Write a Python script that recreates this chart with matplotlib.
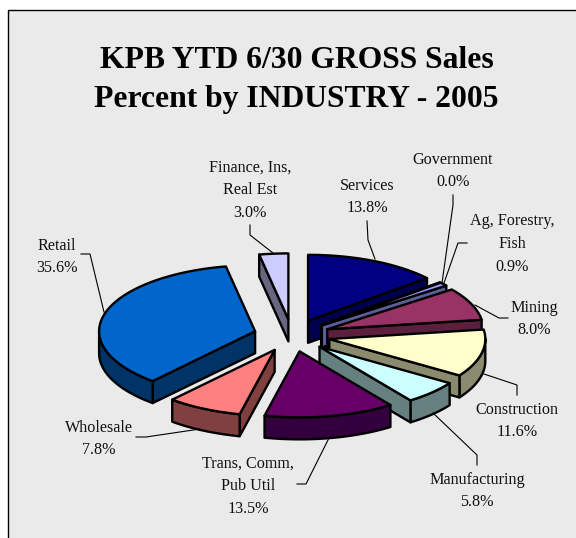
import numpy as np
import matplotlib
matplotlib.use("Agg")
import matplotlib.pyplot as plt
from matplotlib.patches import Polygon, Rectangle

# slices clockwise from 12 o'clock
names = ["Services", "Government", "Ag, Forestry,\nFish", "Mining", "Construction",
         "Manufacturing", "Trans, Comm,\nPub Util", "Wholesale", "Retail", "Finance, Ins,\nReal Est"]
percents = [13.8, 0.0, 0.9, 8.0, 11.6, 5.8, 13.5, 7.8, 35.6, 3.0]
top_colors = ["#000080", "#000080", "#9999FF", "#993366", "#FFFFCC",
              "#CCFFFF", "#660066", "#FF8080", "#0066CC", "#CCCCFF"]
side_colors = ["#00004D", "#00004D", "#5C5C99", "#5C1F3D", "#8A8A6E",
               "#668080", "#33003D", "#804040", "#003366", "#666680"]

# label centre and leader line for each slice, in pixels
label_pos = [(367, 197), (453, 171), (512, 244), (534, 319), (517, 421),
             (477, 491), (248, 486), (99, 439), (57, 257), (250, 190)]
leaders = [
    [(367, 221), (368, 240), (375, 259)],
    [(453, 195), (453, 205), (442, 283)],
    [(467, 243), (458, 243), (444, 283)],
    [(508, 318), (499, 318), (475, 305)],
    [(517, 395), (517, 385), (484, 374)],
    [(477, 465), (477, 455), (433, 413)],
    [(297, 484), (306, 484), (329, 438)],
    [(136, 437), (146, 437), (200, 429)],
    [(81, 254), (90, 254), (104, 312)],
    [(250, 225), (250, 235), (273, 253)],
]

W, H = 576, 538
CX, CY = 292, 335.5
RX, RY = 156, 66
DEPTH = 22
EXPLODE = 0.245
SERIF = "Liberation Serif"

fig = plt.figure(figsize=(W / 100, H / 100), dpi=100, facecolor="white")
ax = fig.add_axes([0, 0, 1, 1])
ax.set_xlim(0, W)
ax.set_ylim(H, 0)
ax.axis("off")

ax.add_patch(Rectangle((7.5, 9.5), W, H, fc="#EAEAEA", ec="black", lw=1.0))


def pt(deg, ox=0.0, oy=0.0, r=1.0):
    a = np.radians(deg)
    return (ox + r * RX * np.sin(a), oy - r * RY * np.cos(a))


edges = np.cumsum([0] + percents) * 3.6
for i, pct in enumerate(percents):
    start, end = edges[i], edges[i + 1]
    mid = (start + end) / 2
    ox, oy = pt(mid, CX, CY, EXPLODE)
    n = max(2, int(end - start) + 2)
    rim = [pt(d, ox, oy) for d in np.linspace(start, end, n)]
    outline = [(ox, oy)] + rim

    # only the side faces that look towards the viewer
    faces = []
    if rim[0][0] < ox:
        faces.append([(ox, oy), rim[0]])
    idx = [k for k in range(len(rim) - 1) if rim[k + 1][0] < rim[k][0]]
    if idx:
        faces.append(rim[idx[0]:idx[-1] + 2])
    if ox < rim[-1][0]:
        faces.append([rim[-1], (ox, oy)])
    for f in faces:
        poly = f + [(x, y + DEPTH) for x, y in reversed(f)]
        ax.add_patch(Polygon(poly, closed=True, fc=side_colors[i], ec="black", lw=1.7, joinstyle="round"))
    ax.add_patch(Polygon(outline, closed=True, fc=top_colors[i], ec="black", lw=1.7, joinstyle="round"))

for line in leaders:
    xs, ys = zip(*line)
    ax.plot(xs, ys, color="black", lw=0.8, solid_joinstyle="miter")

for name, pct, (x, y) in zip(names, percents, label_pos):
    ax.text(x, y, f"{name}\n{pct:.1f}%", ha="center", va="center", family=SERIF,
            fontsize=11.6, color="#111111", linespacing=1.56)

ax.text(296.5, 80, "KPB YTD 6/30 GROSS Sales\nPercent by INDUSTRY - 2005", ha="center", va="center",
        family=SERIF, fontsize=22.8, fontweight="bold", color="black", linespacing=1.44)

fig.savefig("out.png", dpi=100, facecolor="white")
